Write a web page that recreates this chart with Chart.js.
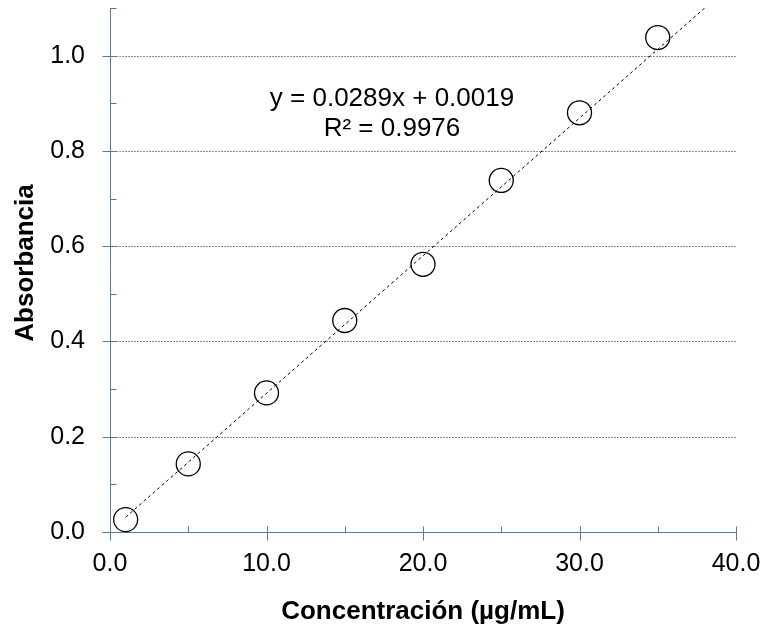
<!DOCTYPE html>
<html>
<head>
<meta charset="utf-8">
<script src="https://cdn.jsdelivr.net/npm/chart.js@4/dist/chart.umd.min.js"></script>
<style>
  body { margin: 0; background: #fff; }
  #wrap { width: 768px; height: 636px; }
</style>
</head>
<body>
<div id="wrap"><canvas id="calib" width="768" height="636"></canvas></div>
<script>
// concentration (ug/mL) and absorbance readings
let concentracion = [1, 5, 10, 15, 20, 25, 30, 35];
let absorbancia = [0.026, 0.143, 0.292, 0.444, 0.562, 0.738, 0.880, 1.038];

// trendline ends
let trendX = [1, 38];
let trendY = [0.031, 1.1];

let ecuacion = ['y = 0.0289x + 0.0019', 'R\u00b2 = 0.9976'];
let tituloX = 'Concentraci\u00f3n (\u00b5g/mL)';
let tituloY = 'Absorbancia';

let axisColor = '#55799f';
let fontFam = '"Liberation Sans", Arial, sans-serif';

// dotted grid, crossing ticks, titles and equation
let extras = {
  id: 'extras',
  beforeDatasetsDraw(chart) {
    let ctx = chart.ctx;
    let xs = chart.scales.x, ys = chart.scales.y;
    let area = chart.chartArea;
    ctx.save();
    ctx.lineWidth = 1;
    ctx.strokeStyle = '#8c8c8c';
    ctx.setLineDash([2, 1]);
    ys.ticks.forEach(t => {
      if (t.value === 0) return;
      let py = Math.round(ys.getPixelForValue(t.value)) + 0.5;
      ctx.beginPath();
      ctx.moveTo(area.left, py);
      ctx.lineTo(area.right, py);
      ctx.stroke();
    });
    ctx.setLineDash([]);
    ctx.strokeStyle = axisColor;
    let ax = Math.round(area.left) + 0.5;
    for (let v = 0; v <= 1.1001; v += 0.1) {
      let py = Math.round(ys.getPixelForValue(v)) + 0.5;
      let major = Math.round(v * 10) % 2 === 0;
      ctx.beginPath();
      ctx.moveTo(major ? ax - 8 : ax, py);
      ctx.lineTo(ax + 6, py);
      ctx.stroke();
    }
    let ay = Math.round(area.bottom) + 0.5;
    for (let v = 0; v <= 40; v += 5) {
      let px = Math.round(xs.getPixelForValue(v)) + 0.5;
      let major = v % 10 === 0;
      ctx.beginPath();
      ctx.moveTo(px, ay - 6);
      ctx.lineTo(px, major ? ay + 8 : ay);
      ctx.stroke();
    }
    ctx.restore();
  },
  afterDraw(chart) {
    let ctx = chart.ctx;
    ctx.save();
    ctx.fillStyle = '#000';
    ctx.textAlign = 'center';
    ctx.textBaseline = 'middle';
    ctx.font = 'bold 26px ' + fontFam;
    ctx.fillText(tituloX, 423, 612);
    ctx.save();
    ctx.translate(26, 263);
    ctx.rotate(-Math.PI / 2);
    ctx.fillText(tituloY, 0, 0);
    ctx.restore();
    ctx.font = '26px ' + fontFam;
    ctx.fillText(ecuacion[0], 392, 99);
    ctx.fillText(ecuacion[1], 392, 129);
    ctx.restore();
  }
};

let calibChart = new Chart(document.getElementById('calib').getContext('2d'), {
  type: 'scatter',
  data: {
    datasets: [{
      label: 'Absorbancia',
      data: concentracion.map((c, i) => ({x: c, y: absorbancia[i]})),
      pointRadius: 12,
      pointHoverRadius: 12,
      pointBorderWidth: 1.3,
      pointBorderColor: '#000',
      pointBackgroundColor: 'rgba(0,0,0,0)',
      clip: false
    }, {
      label: 'Lineal',
      type: 'line',
      data: trendX.map((c, i) => ({x: c, y: trendY[i]})),
      borderColor: '#000',
      borderWidth: 1,
      borderDash: [3, 3],
      pointRadius: 0,
      fill: false
    }]
  },
  options: {
    responsive: false,
    animation: false,
    devicePixelRatio: 1,
    layout: { autoPadding: false, padding: { left: 0, right: 32, top: 8, bottom: 0 } },
    plugins: { legend: { display: false }, tooltip: { enabled: false } },
    scales: {
      x: {
        type: 'linear',
        min: 0, max: 40,
        afterFit: s => { s.height = 104; s.paddingLeft = 0; s.paddingRight = 0; },
        ticks: {
          stepSize: 10,
          padding: 17,
          color: '#000',
          font: { family: fontFam, size: 25 },
          callback: v => v.toFixed(1)
        },
        grid: { display: false, drawTicks: false },
        border: { color: axisColor, width: 1 }
      },
      y: {
        min: 0, max: 1.1,
        afterFit: s => { s.width = 110; s.paddingTop = 0; s.paddingBottom = 0; },
        ticks: {
          stepSize: 0.2,
          includeBounds: false,
          padding: 25,
          color: '#000',
          font: { family: fontFam, size: 25 },
          callback: v => v.toFixed(1)
        },
        grid: { display: false, drawTicks: false },
        border: { color: axisColor, width: 1 }
      }
    }
  },
  plugins: [extras]
});
</script>
</body>
</html>
